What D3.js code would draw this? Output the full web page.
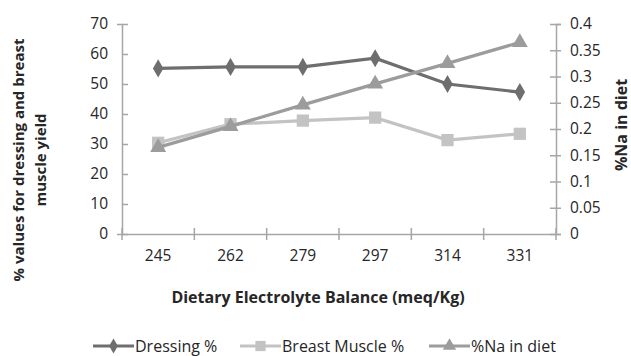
<!DOCTYPE html>
<html>
<head>
<meta charset="utf-8">
<script src="https://cdn.jsdelivr.net/npm/d3@7"></script>
<style>
  body { margin: 0; background: #fff; }
  text { font-family: "Open Sans", sans-serif; fill: #262626; }
</style>
</head>
<body>
<div id="chart"></div>
<script>
var categories = ["245", "262", "279", "297", "314", "331"];
var dressing = [55.2, 55.7, 55.7, 58.6, 50.0, 47.3];
var breast = [30.4, 36.6, 37.8, 38.8, 31.3, 33.4];
var sodium = [0.165, 0.205, 0.246, 0.286, 0.325, 0.365];
var leftTicks = [0, 10, 20, 30, 40, 50, 60, 70];
var rightTicks = [0, 0.05, 0.1, 0.15, 0.2, 0.25, 0.3, 0.35, 0.4];

var width = 631, height = 356;
var plotLeft = 122, plotRight = 556, plotTop = 24, plotBottom = 234;

var svg = d3.select("#chart").append("svg")
  .attr("width", width).attr("height", height);

var x = d3.scaleBand().domain(categories).range([plotLeft, plotRight]);
var yL = d3.scaleLinear().domain([0, 70]).range([plotBottom, plotTop]);
var yR = d3.scaleLinear().domain([0, 0.4]).range([plotBottom, plotTop]);

var axisColor = "#a6a6a6";

// left axis
var gL = svg.append("g").attr("transform", "translate(" + plotLeft + ",0)")
  .call(d3.axisLeft(yL).tickValues(leftTicks).tickSize(5).tickPadding(9));
gL.selectAll(".tick line").attr("x2", 6);

// right axis
var gR = svg.append("g").attr("transform", "translate(" + plotRight + ",0)")
  .call(d3.axisRight(yR).tickValues(rightTicks).tickSize(5).tickPadding(9)
    .tickFormat(function(d) { return String(+d.toFixed(2)); }));
gR.selectAll(".tick line").attr("x2", 5).attr("x1", -6);

// bottom axis (labels only, ticks at band edges)
var gB = svg.append("g").attr("transform", "translate(0," + plotBottom + ")")
  .call(d3.axisBottom(x).tickSize(0).tickPadding(16));
var edges = categories.map(function(c) { return x(c); }).concat([plotRight]);
gB.selectAll(".edge").data(edges).enter().append("line")
  .attr("class", "edge")
  .attr("x1", function(d) { return d; }).attr("x2", function(d) { return d; })
  .attr("y1", -6).attr("y2", 6);

[gL, gR, gB].forEach(function(g) {
  g.selectAll("path.domain").attr("stroke", axisColor).attr("stroke-width", 1.5);
  g.selectAll("line").attr("stroke", axisColor).attr("stroke-width", 1.5);
  g.selectAll("text").style("font-size", "15.5px").style("fill", "#262626");
});

var cx = function(d, i) { return x(categories[i]) + x.bandwidth() / 2; };

var series = [
  {name: "Dressing %", values: dressing, scale: yL, color: "#6e6e6e", symbol: d3.symbolDiamond, size: 95},
  {name: "Breast Muscle %", values: breast, scale: yL, color: "#c3c3c3", symbol: d3.symbolSquare, size: 150},
  {name: "%Na in diet", values: sodium, scale: yR, color: "#9c9c9c", symbol: d3.symbolTriangle, size: 110}
];

series.forEach(function(s) {
  var line = d3.line().x(cx).y(function(d) { return s.scale(d); });
  svg.append("path").datum(s.values)
    .attr("d", line).attr("fill", "none")
    .attr("stroke", s.color).attr("stroke-width", 3.2);
  svg.selectAll(null).data(s.values).enter().append("path")
    .attr("d", d3.symbol().type(s.symbol).size(s.size))
    .attr("transform", function(d, i) {
      return "translate(" + cx(d, i) + "," + s.scale(d) + ")";
    })
    .attr("fill", s.color);
});

// axis titles
svg.append("text").attr("x", 318).attr("y", 303)
  .attr("text-anchor", "middle").style("font-size", "16px").style("font-weight", "bold")
  .text("Dietary Electrolyte Balance (meq/Kg)");

var yt = svg.append("text").attr("transform", "translate(24,160) rotate(-90)")
  .attr("text-anchor", "middle").style("font-size", "15px").style("font-weight", "bold");
yt.append("tspan").attr("x", 0).attr("y", 0).text("% values for dressing  and breast");
yt.append("tspan").attr("x", 0).attr("y", 22).text("muscle yield");

svg.append("text").attr("transform", "translate(627,125) rotate(-90)")
  .attr("text-anchor", "middle").style("font-size", "16px").style("font-weight", "bold")
  .text("%Na in diet");

// legend
var legendX = [93, 240, 429];
var lg = svg.selectAll(".legend").data(series).enter().append("g")
  .attr("transform", function(d, i) { return "translate(" + legendX[i] + ",346)"; });
lg.append("line").attr("x1", 0).attr("x2", 41).attr("y1", 0).attr("y2", 0)
  .attr("stroke", function(d) { return d.color; }).attr("stroke-width", 3.2);
lg.append("path")
  .attr("d", function(d) { return d3.symbol().type(d.symbol).size(d.size * 0.7)(); })
  .attr("transform", "translate(20.5,0)")
  .attr("fill", function(d) { return d.color; });
lg.append("text").attr("x", 42).attr("y", 5.5).style("font-size", "16px")
  .text(function(d) { return d.name; });
</script>
</body>
</html>
